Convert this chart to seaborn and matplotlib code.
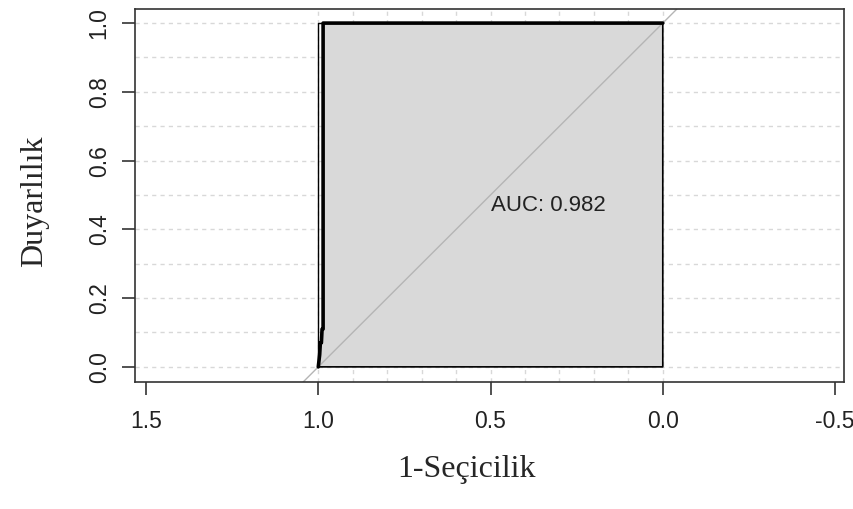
import numpy as np
import pandas as pd
import seaborn as sns
import matplotlib.pyplot as plt

# ROC curve points (specificity, sensitivity)
specificity = [1.0, 0.996, 0.994, 0.991, 0.989, 0.986, 0.986, 0.0]
sensitivity = [0.0, 0.035, 0.07, 0.07, 0.11, 0.11, 1.0, 1.0]
auc_value = 0.982

x_ticks = [1.5, 1.0, 0.5, 0.0, -0.5]
y_ticks = [0.0, 0.2, 0.4, 0.6, 0.8, 1.0]

roc = pd.DataFrame({"spec": specificity, "sens": sensitivity})

sns.set_style("white")
plt.rcParams['font.family'] = ['Liberation Sans', 'DejaVu Sans']

fig = plt.figure(figsize=(8.54, 5.09), dpi=100)
ax = fig.add_axes([135/854, 1 - 382/509, (844 - 135)/854, (382 - 9)/509])

# dotted grid like pROC
for g in np.arange(0, 1.01, 0.1):
    ax.axhline(g, color='#d8d8d8', lw=1, ls=(0, (3, 3)), zorder=0)
    ax.axvline(g, color='#d8d8d8', lw=1, ls=(0, (3, 3)), zorder=0)

# AUC polygon
poly_x = list(roc["spec"]) + [0.0]
poly_y = list(roc["sens"]) + [0.0]
ax.fill(poly_x, poly_y, facecolor='#d9d9d9', edgecolor='none', zorder=1)
ax.plot(poly_x + [poly_x[0]], poly_y + [poly_y[0]], color='black', lw=1.2, zorder=2)

# thin outline at specificity 1
ax.plot([1.0, 1.0, roc["spec"].iloc[-2]], [0.0, 1.0, 1.0], color='black', lw=1, zorder=2)

# chance line
ax.axline((1, 0), (0, 1), color='#b5b5b5', lw=1, zorder=2)

sns.lineplot(data=roc, x="spec", y="sens", sort=False, estimator=None,
             color='black', lw=2.6, ax=ax, zorder=3)

ax.text(0.5, 0.468, f"AUC: {auc_value:.3f}", ha='left', va='center', fontsize=16, color='#222222', zorder=4)

ax.set_xlim(1.532, -0.526)
ax.set_ylim(-0.044, 1.041)
ax.set_xticks(x_ticks)
ax.set_xticklabels([f"{t:.1f}" for t in x_ticks])
ax.set_yticks(y_ticks)
ax.set_yticklabels([f"{t:.1f}" for t in y_ticks], rotation=90, va='center')
ax.tick_params(bottom=True, left=True, direction='out', length=9.5, width=1.2,
               color='#333333', labelsize=16.5, labelcolor='#222222')
ax.tick_params(axis='x', pad=11)
ax.tick_params(axis='y', pad=8)

for s in ax.spines.values():
    s.set_color('#333333')
    s.set_linewidth(1.2)

ax.set_xlabel("")
ax.set_ylabel("")
fig.text(467/854, 1 - 470/509, "1-Seçicilik", family='Liberation Serif', fontsize=23, ha='center', va='center')
fig.text(35/854, 1 - 201/509, "Duyarlılık", family='Liberation Serif', fontsize=23, rotation=90, ha='center', va='center')

fig.savefig("out.png", dpi=100)
